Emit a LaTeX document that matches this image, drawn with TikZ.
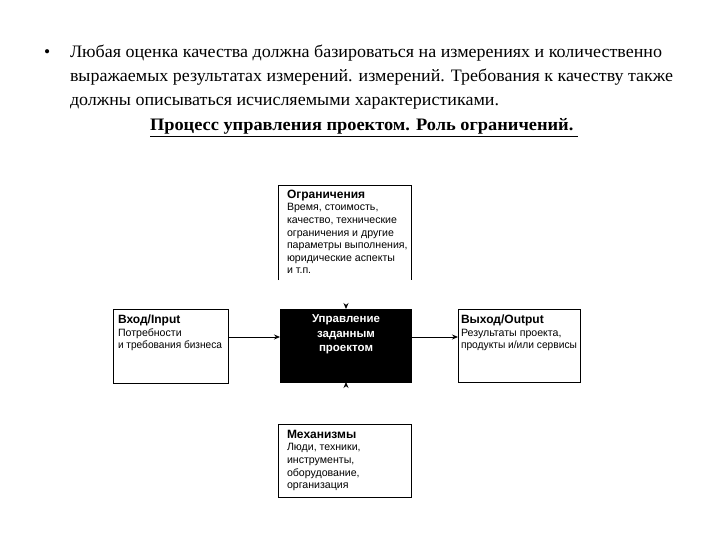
\documentclass[tikz,border=0pt]{standalone}
\usepackage{fontspec}
\usepackage{graphicx}
\setmainfont{Liberation Serif}
\newfontfamily\boxfont{Liberation Sans}
\newcommand{\boxhead}[1]{{\bfseries\fontsize{12}{12.6}\selectfont #1}}
\usetikzlibrary{arrows.meta}
\begin{document}
\begin{tikzpicture}[x=1pt,y=-1pt,
  every node/.style={inner sep=0pt, outer sep=0pt},
  plainbox/.style={draw=black, line width=0.8pt, fill=white, minimum width=#1, anchor=north west},
  boxtext/.style={anchor=north west, align=left, font=\boxfont\fontsize{10.6}{12.6}\selectfont},
  para/.style={anchor=base west, font=\fontsize{17.5}{24}\selectfont},
  flow/.style={line width=0.8pt, -{Stealth[length=6pt,width=5pt]}},
  ghost/.style={draw=white, line width=0.8pt, -{Stealth[length=6pt,width=5pt,color=black]}}
]
\useasboundingbox (0,0) rectangle (720,540);
% paragraph
\node[para] (bul) at (44,58) {•};
\node[para] (l1) at (70,58) {\resizebox{592pt}{\height}{Любая оценка качества должна базироваться на измерениях и количественно}};
\node[para] (l2) at (70,82) {\resizebox{603pt}{\height}{выражаемых результатах измерений. измерений. Требования к качеству также}};
\node[para] (l3) at (70,106) {\resizebox{429pt}{\height}{должны описываться исчисляемыми характеристиками.}};
\node[para] (ttl) at (150,131) {\resizebox{428pt}{\height}{\underline{\bfseries Процесс управления проектом. Роль ограничений.\ }}};
% top box (no bottom edge)
\node[minimum width=133pt, minimum height=95pt, anchor=north west] (cons) at (278,185) {};
\draw[line width=0.8pt] (cons.south west) -- (cons.north west) -- (cons.north east) -- (cons.south east);
\node[boxtext] (consT) at (287,190) {\boxhead{Ограничения}\\Время, стоимость,\\качество, технические\\ограничения и другие\\параметры выполнения,\\юридические аспекты\\и т.п.};
% left box
\node[plainbox=115pt, minimum height=74pt] (inp) at (113,309) {};
\node[boxtext] (inpT) at (118,315) {\boxhead{Вход/Input}\\Потребности\\\resizebox{104pt}{\height}{и требования бизнеса}};
% center box
\node[draw=black, fill=black, minimum width=131pt, minimum height=73pt, anchor=north west] (ctl) at (280,309) {};
\node[anchor=north, align=center, text=white, font=\boxfont\bfseries\fontsize{11.5}{14.5}\selectfont] (ctlT) at (346,315) {Управление\\заданным\\проектом};
% right box
\node[plainbox=122pt, minimum height=73pt] (outp) at (458,309) {};
\node[boxtext] (outT) at (461,315) {\boxhead{Выход/Output}\\Результаты проекта,\\\resizebox{116pt}{\height}{продукты и/или сервисы}};
% bottom box
\node[plainbox=133pt, minimum height=73pt] (mech) at (278,424) {};
\node[boxtext] (mechT) at (287,430) {\boxhead{Механизмы}\\Люди, техники,\\инструменты,\\оборудование,\\организация};
% connectors
\draw[flow] (inp.east |- 0,337) coordinate (a1) -- (ctl.west |- 0,337);
\draw[flow] (ctl.east |- 0,337) -- (outp.west |- 0,337);
\draw[ghost] (cons.south -| 346,0) -- (ctl.north -| 346,0);
\draw[ghost] (mech.north -| 346,0) -- (ctl.south -| 346,0);
\end{tikzpicture}
\end{document}
